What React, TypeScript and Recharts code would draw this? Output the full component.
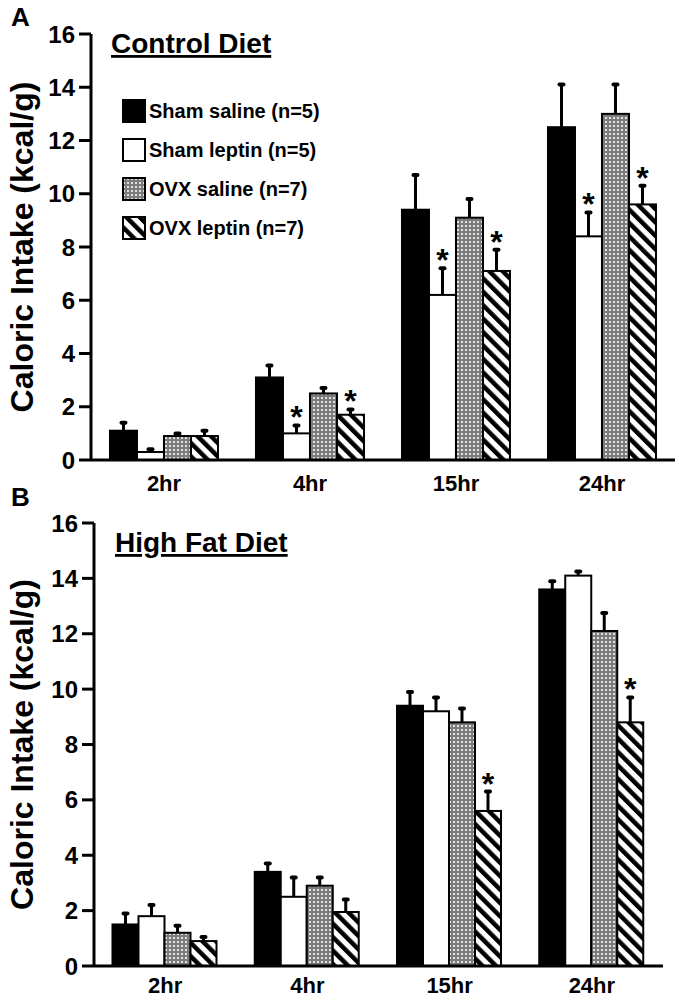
import React from 'react';
import { BarChart, Bar, XAxis, YAxis, Legend } from 'recharts';

const FONT = '"Liberation Sans", Arial, sans-serif';

const timePoints = ['2hr', '4hr', '15hr', '24hr'];
const yTicks = [0, 2, 4, 6, 8, 10, 12, 14, 16];
const groupNames = ['Sham saline (n=5)', 'Sham leptin (n=5)', 'OVX saline (n=7)', 'OVX leptin (n=7)'];
const groupFills = ['#000', '#fff', 'url(#dots)', 'url(#hatch)'];

// panel A - control diet
const ctlShamSaline = [1.1, 3.1, 9.4, 12.5];
const ctlShamSalineErr = [0.3, 0.45, 1.3, 1.6];
const ctlShamLeptin = [0.3, 1.0, 6.2, 8.4];
const ctlShamLeptinErr = [0.1, 0.3, 1.0, 0.9];
const ctlOvxSaline = [0.9, 2.5, 9.1, 13.0];
const ctlOvxSalineErr = [0.1, 0.2, 0.7, 1.1];
const ctlOvxLeptin = [0.9, 1.7, 7.1, 9.6];
const ctlOvxLeptinErr = [0.2, 0.2, 0.8, 0.7];
const ctlShamLeptinSig = [false, true, true, true];
const ctlOvxLeptinSig = [false, true, true, true];

// panel B - high fat diet
const hfdShamSaline = [1.5, 3.4, 9.4, 13.6];
const hfdShamSalineErr = [0.4, 0.3, 0.5, 0.3];
const hfdShamLeptin = [1.8, 2.5, 9.2, 14.1];
const hfdShamLeptinErr = [0.4, 0.7, 0.5, 0.15];
const hfdOvxSaline = [1.2, 2.9, 8.8, 12.1];
const hfdOvxSalineErr = [0.25, 0.3, 0.5, 0.65];
const hfdOvxLeptin = [0.9, 1.95, 5.6, 8.8];
const hfdOvxLeptinErr = [0.15, 0.45, 0.7, 0.9];
const hfdOvxLeptinSig = [false, false, true, true];
const noSig = [false, false, false, false];

const buildRows = (vals: number[][], errs: number[][], sig: boolean[][]) =>
  timePoints.map((t, i) => {
    const row: any = { time: t };
    vals.forEach((v, k) => {
      row[`s${k}`] = v[i];
      row[`e${k}`] = errs[k][i];
      row[`k${k}`] = sig[k][i];
    });
    return row;
  });

const controlRows = buildRows(
  [ctlShamSaline, ctlShamLeptin, ctlOvxSaline, ctlOvxLeptin],
  [ctlShamSalineErr, ctlShamLeptinErr, ctlOvxSalineErr, ctlOvxLeptinErr],
  [noSig, ctlShamLeptinSig, noSig, ctlOvxLeptinSig]
);
const highFatRows = buildRows(
  [hfdShamSaline, hfdShamLeptin, hfdOvxSaline, hfdOvxLeptin],
  [hfdShamSalineErr, hfdShamLeptinErr, hfdOvxSalineErr, hfdOvxLeptinErr],
  [noSig, noSig, noSig, hfdOvxLeptinSig]
);

const ErrBarShape = (props: any) => {
  const { x, y, width, height, fill, payload, idx } = props;
  const v = payload[`s${idx}`];
  const e = payload[`e${idx}`];
  const sig = payload[`k${idx}`];
  const ppu = v ? height / v : 0;
  const top = y - e * ppu;
  const cx = x + width / 2;
  return (
    <g>
      <rect x={x} y={y} width={width} height={height} fill={fill} stroke="#000" strokeWidth={2} />
      <line x1={cx} x2={cx} y1={y} y2={top} stroke="#000" strokeWidth={3} />
      <line x1={cx - 2} x2={cx + 2} y1={top} y2={top} stroke="#000" strokeWidth={4} strokeLinecap="round" />
      {sig && (
        <text x={cx} y={top + 3} textAnchor="middle" fontSize={32} fontWeight="bold" fontFamily={FONT}>
          *
        </text>
      )}
    </g>
  );
};

const YLabel = (props: any) => {
  const vb = props.viewBox || {};
  const cy = vb.y + vb.height / 2;
  return (
    <text
      x={22}
      y={cy}
      transform={`rotate(-90, 22, ${cy})`}
      textAnchor="middle"
      dominantBaseline="central"
      fontSize={32}
      fontWeight="bold"
      fontFamily={FONT}
      fill="#000"
    >
      Caloric Intake (kcal/g)
    </text>
  );
};

const LegendBox = ({ payload }: any) => (
  <div style={{ fontFamily: FONT, fontWeight: 'bold', fontSize: 20, color: '#000' }}>
    {(payload || []).map((entry: any, i: number) => (
      <div key={i} style={{ display: 'flex', alignItems: 'center', height: 39 }}>
        <svg width={26} height={25}>
          <rect x={1} y={1} width={22} height={22} fill={entry.payload?.fill ?? entry.color} stroke="#000" strokeWidth={2} />
        </svg>
        <span style={{ marginLeft: 1 }}>{entry.value}</span>
      </div>
    ))}
  </div>
);

const tickStyle = { fontSize: 24, fontWeight: 'bold', fill: '#000', fontFamily: FONT };

const Panel = ({ rows, margin, tickGap, legend }: any) => (
  <BarChart width={679} height={500} data={rows} margin={margin} barCategoryGap="13%" barGap={0}>
    <XAxis
      dataKey="time"
      tickLine={false}
      tickSize={0}
      tickMargin={tickGap}
      height={30}
      axisLine={{ stroke: '#000', strokeWidth: 3 }}
      tick={{ fontSize: 22, fontWeight: 'bold', fill: '#000', fontFamily: FONT }}
    />
    <YAxis
      domain={[0, 16]}
      ticks={yTicks}
      width={60}
      tickSize={12}
      tickMargin={4}
      axisLine={{ stroke: '#000', strokeWidth: 3 }}
      tickLine={{ stroke: '#000', strokeWidth: 3 }}
      tick={tickStyle}
      label={<YLabel />}
    />
    {legend && (
      <Legend
        layout="vertical"
        align="center"
        verticalAlign="middle"
        itemSorter="dataKey"
        wrapperStyle={{ left: 122, top: 92, width: 'auto' }}
        content={<LegendBox />}
      />
    )}
    {groupNames.map((name, k) => (
      <Bar
        key={name}
        dataKey={`s${k}`}
        name={name}
        fill={groupFills[k]}
        isAnimationActive={false}
        shape={(p: any) => <ErrBarShape {...p} idx={k} />}
      />
    ))}
  </BarChart>
);

export default function App() {
  return (
    <div style={{ position: 'absolute', left: 0, top: 0, width: 679, height: 1000, background: '#fff' }}>
      <svg width={0} height={0} style={{ position: 'absolute' }}>
        <defs>
          <pattern id="dots" patternUnits="userSpaceOnUse" width={4} height={4}>
            <rect width={4} height={4} fill="#7c7c7c" />
            <rect x={1} y={1} width={2} height={2} fill="#e2e2e2" />
          </pattern>
          <pattern id="hatch" patternUnits="userSpaceOnUse" width={9.5} height={9.5} patternTransform="rotate(-45)">
            <rect width={9.5} height={9.5} fill="#fff" />
            <rect width={4.5} height={9.5} fill="#000" />
          </pattern>
        </defs>
      </svg>
      <div style={{ position: 'absolute', left: 0, top: 0 }}>
        <Panel rows={controlRows} margin={{ top: 34, right: 4, left: 31, bottom: 10 }} tickGap={15} legend />
      </div>
      <div style={{ position: 'absolute', left: 0, top: 500 }}>
        <Panel rows={highFatRows} margin={{ top: 23, right: 16, left: 34, bottom: 4 }} tickGap={11} legend={false} />
      </div>
      <svg width={679} height={1000} style={{ position: 'absolute', left: 0, top: 0, pointerEvents: 'none' }}>
        <g fontFamily={FONT} fontWeight="bold" fill="#000">
          <text x={11} y={26} fontSize={26}>A</text>
          <text x={11} y={506} fontSize={26}>B</text>
          <text x={111} y={53} fontSize={28} style={{ textDecoration: 'underline' }}>Control Diet</text>
          <text x={115} y={552} fontSize={28} style={{ textDecoration: 'underline' }}>High Fat Diet</text>
        </g>
      </svg>
    </div>
  );
}
